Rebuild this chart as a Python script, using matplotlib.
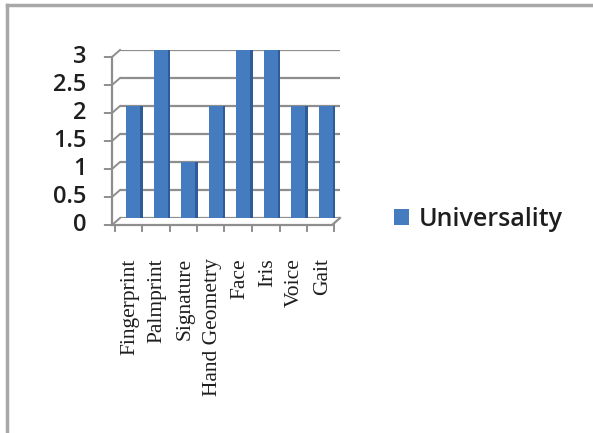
import matplotlib
matplotlib.use("Agg")
import matplotlib.pyplot as plt
from matplotlib.patches import Patch
from matplotlib.lines import Line2D
from matplotlib.transforms import ScaledTranslation

# data
categories = ["Fingerprint", "Palmprint", "Signature", "Hand Geometry",
              "Face", "Iris", "Voice", "Gait"]
universality = [2, 3, 1, 2, 3, 3, 2, 2]
y_ticks = [0, 0.5, 1, 1.5, 2, 2.5, 3]
y_labels = ["0", "0.5", "1", "1.5", "2", "2.5", "3"]

bar_color = "#457cc0"
side_color = "#2d5c98"
grid_color = "#8e8e8e"

fig = plt.figure(figsize=(5.93, 4.33), dpi=100)
fig.patch.set_facecolor("white")

# outer frame (only left and top edges are visible in the reference)
fig.add_artist(Line2D([7 / 593, 7 / 593], [0, 1 - 5 / 433], color="#a8a8a8", lw=2.5))
fig.add_artist(Line2D([7 / 593, 1], [1 - 5 / 433, 1 - 5 / 433], color="#a8a8a8", lw=2.5))

ax = fig.add_axes([120 / 593, (433 - 218) / 433, 220 / 593, 168 / 433])
ax.set_xlim(-0.5, len(categories) - 0.5)
ax.set_ylim(0, 3)
for s in ax.spines.values():
    s.set_visible(False)
ax.set_facecolor("none")

# 3D depth offsets in data units
dx = 0.29
dy = 0.125
n = len(categories)

# back wall gridlines + left wall diagonals + ticks
for v in y_ticks:
    ax.plot([-0.5, n - 0.5], [v, v], color=grid_color, lw=1.6, zorder=1)
    ax.plot([-0.5, -0.5 - dx, -0.5 - dx - 0.26], [v, v - dy, v - dy],
            color=grid_color, lw=1.4, clip_on=False, zorder=1)

# front vertical axis line
ax.plot([-0.5 - dx, -0.5 - dx], [-dy, 3 - dy], color=grid_color, lw=1.6, clip_on=False)
# floor front edge
ax.plot([-0.5 - dx, n - 0.5 - dx, n - 0.5], [-dy, -dy, 0], color=grid_color, lw=1.6,
        clip_on=False)
for k in range(n + 1):
    ax.plot([k - 0.5 - 0.2, k - 0.5 - 0.2], [-dy, -dy - 0.1], color=grid_color, lw=1.4,
            clip_on=False)

# bars: darker side then front face
x = list(range(n))
ax.bar([i + 0.06 for i in x], universality, width=0.55, color=side_color, zorder=3)
ax.bar([i - 0.02 for i in x], universality, width=0.5, color=bar_color, zorder=4)

# y labels (on the front face)
for v, lab in zip(y_ticks, y_labels):
    ax.text(-1.72, v - dy, lab, ha="right", va="center", fontsize=17,
            family="Open Sans", weight="semibold", color="#1e1e1e", clip_on=False)

ax.set_yticks([])
ax.set_xticks(x)
ax.set_xticklabels(categories, rotation=90, family="Liberation Serif", fontsize=15.5,
                   color="#1e1e1e")
ax.tick_params(axis="x", length=0, pad=29)
shift = ScaledTranslation(-4 / 100, 0, fig.dpi_scale_trans)
for lab in ax.get_xticklabels():
    lab.set_transform(lab.get_transform() + shift)

handles = [Patch(facecolor=bar_color, edgecolor="none")]
fig.legend(handles, ["Universality"], loc="center left",
           bbox_to_anchor=(394 / 593, 214 / 433), frameon=False,
           prop={"family": "Open Sans", "size": 18, "weight": "semibold"},
           labelcolor="#1e1e1e",
           handlelength=0.6, handleheight=0.6, handletextpad=0.4, borderpad=0,
           borderaxespad=0)

fig.savefig("out.png", dpi=100)
